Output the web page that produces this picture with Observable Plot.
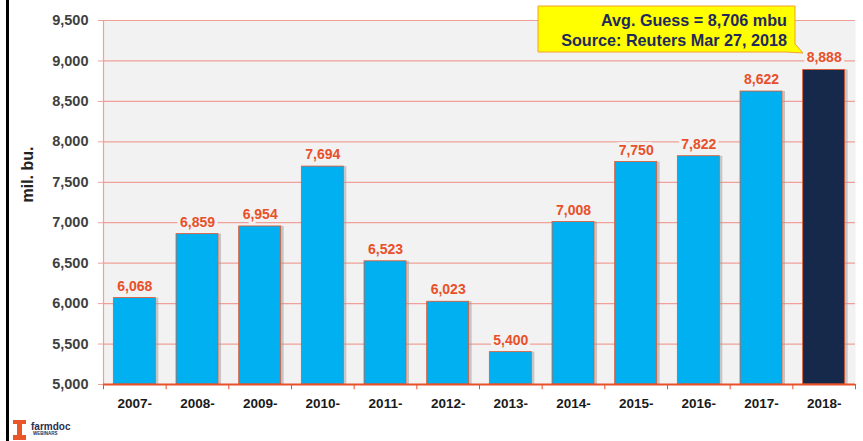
<!DOCTYPE html>
<html>
<head>
<meta charset="utf-8">
<script src="https://cdn.jsdelivr.net/npm/d3@7"></script>
<script src="https://cdn.jsdelivr.net/npm/@observablehq/plot@0.6"></script>
<style>
  html, body { margin: 0; padding: 0; background: #fff; }
  #wrap { position: relative; width: 863px; height: 441px; overflow: hidden; font-family: "Liberation Sans", Arial, sans-serif; }
  #leftline { position: absolute; left: 6px; top: 0; width: 3px; height: 441px; background: #000; }
  #note { position: absolute; left: 0; top: 0; }
  #logo { position: absolute; left: 13px; top: 419px; }
</style>
</head>
<body>
<div id="wrap">
  <div id="chart"></div>
  <div id="leftline"></div>
  <svg id="note" width="863" height="80">
    <polygon points="538,6 795,6 795,44 803,53 786,52 538,52" fill="#ffff00" stroke="#f0a030" stroke-width="1"/>
    <text x="787" y="26" text-anchor="end" font-family="Liberation Sans, Arial, sans-serif" font-weight="bold" font-size="16.2" fill="#1f2a5c">Avg. Guess = 8,706 mbu</text>
    <text x="787" y="46" text-anchor="end" font-family="Liberation Sans, Arial, sans-serif" font-weight="bold" font-size="16.2" fill="#1f2a5c">Source: Reuters Mar 27, 2018</text>
  </svg>
  <svg id="logo" width="70" height="22">
    <rect x="0" y="1" width="13" height="4" fill="#e8562a"/>
    <rect x="4" y="4" width="5" height="14" fill="#e8562a"/>
    <rect x="0" y="16" width="13" height="5" fill="#e8562a"/>
    <text x="18" y="11" font-family="Liberation Sans, Arial, sans-serif" font-weight="bold" font-size="10" fill="#2a3050">farmdoc</text>
    <text x="20" y="16" font-family="Liberation Sans, Arial, sans-serif" font-weight="bold" font-size="4.5" fill="#2a3050">WEBINARS</text>
  </svg>
</div>
<script>
const years = ["2007-","2008-","2009-","2010-","2011-","2012-","2013-","2014-","2015-","2016-","2017-","2018-"];
const values = [6068, 6859, 6954, 7694, 6523, 6023, 5400, 7008, 7750, 7822, 8622, 8888];
const colors = ["#00b0f0","#00b0f0","#00b0f0","#00b0f0","#00b0f0","#00b0f0","#00b0f0","#00b0f0","#00b0f0","#00b0f0","#00b0f0","#16294a"];
const yTicks = [5000, 5500, 6000, 6500, 7000, 7500, 8000, 8500, 9000, 9500];

const data = years.map((y, i) => ({year: y, value: values[i], color: colors[i]}));
const base = 5000;
const step = (863 - 103 - 8) / years.length;

const chart = Plot.plot({
  width: 863,
  height: 441,
  marginLeft: 103,
  marginRight: 8,
  marginTop: 20,
  marginBottom: 57,
  style: {background: "transparent", fontFamily: "Liberation Sans, Arial, sans-serif"},
  x: {domain: years, paddingInner: 0.33, paddingOuter: 0.165, round: false, label: null},
  y: {domain: [5000, 9500], label: null},
  marks: [
    Plot.frame({fill: "#f2f2f2", stroke: null}),
    Plot.gridY(yTicks, {stroke: "#f0a098", strokeOpacity: 1, strokeWidth: 1.2}),
    Plot.ruleX([years[0]], {x: d => d, dx: -step / 2, y1: 5000, y2: 9500, stroke: "#f0a098", strokeWidth: 1.2}),
    Plot.barY(data, {x: "year", y1: base, y2: "value", fill: "#999", fillOpacity: 0.5, dx: 3}),
    Plot.barY(data, {x: "year", y1: base, y2: "value", fill: "color", stroke: "#e8562a", strokeWidth: 0.8}),
    Plot.ruleX(years, {x: d => d, dx: step / 2, y1: 5000, y2: 4935, stroke: "#e8502a", strokeWidth: 1}),
    Plot.ruleX([years[0]], {x: d => d, dx: -step / 2, y1: 5000, y2: 4935, stroke: "#e8502a", strokeWidth: 1}),
    Plot.ruleY([5000], {stroke: "#e8502a", strokeWidth: 2}),
    Plot.axisY(yTicks, {tickSize: 5, tickPadding: 10, stroke: "#f0a098", fontSize: 14.5, fontWeight: "bold", fill: "#404040", tickFormat: d3.format(","), label: null}),
    Plot.axisX({tickSize: 0, tickPadding: 14, fontSize: 13.5, fontWeight: "bold", fill: "#1a1a1a", label: null}),
    Plot.text(data, {x: "year", y: "value", text: d => d3.format(",")(d.value), dy: -12, fill: "#e8502a", stroke: "#f2f2f2", strokeWidth: 6, fontSize: 14, fontWeight: "bold"}),
    Plot.text(["mil. bu."], {frameAnchor: "left", dx: -76, rotate: -90, fontSize: 16, fontWeight: "bold", fill: "#222"})
  ]
});
document.getElementById("chart").appendChild(chart);
</script>
</body>
</html>
